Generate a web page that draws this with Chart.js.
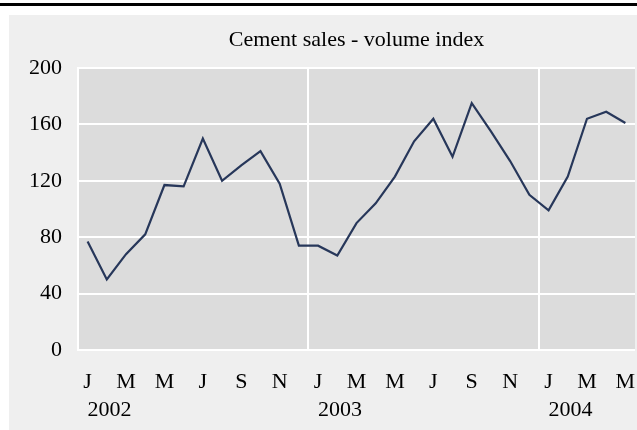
<!DOCTYPE html>
<html>
<head>
<meta charset="utf-8">
<script src="https://cdn.jsdelivr.net/npm/chart.js@4/dist/chart.umd.min.js"></script>
<style>
  html, body { margin: 0; padding: 0; background: #ffffff; }
  #wrap { width: 637px; height: 430px; position: relative; }
</style>
</head>
<body>
<div id="wrap"><canvas id="cementChart"></canvas></div>
<script>
// Jan 2002 .. May 2004
const months = ['J','F','M','A','M','J','J','A','S','O','N','D',
                'J','F','M','A','M','J','J','A','S','O','N','D',
                'J','F','M','A','M'];
const years = ['2002', '2003', '2004'];
const salesIndex = [77, 50, 68, 82, 117, 116, 150, 120, 131, 141, 118, 74,
                    74, 67, 90, 104, 123, 148, 164, 137, 175, 155, 134, 110,
                    99, 123, 164, 169, 161];
const yTicks = [0, 40, 80, 120, 160, 200];

const serif = "'Liberation Serif', 'Times New Roman', serif";

const backdrop = {
  id: 'backdrop',
  beforeDraw(chart) {
    const { ctx, chartArea } = chart;
    ctx.save();
    ctx.fillStyle = '#000000';
    ctx.fillRect(0, 3, chart.width, 3);
    ctx.fillStyle = '#efefef';
    ctx.fillRect(9, 15, chart.width - 9, chart.height - 15);
    ctx.fillStyle = '#dcdcdc';
    ctx.fillRect(chartArea.left, chartArea.top, chartArea.right - chartArea.left, chartArea.bottom - chartArea.top);
    ctx.restore();
  }
};

const yearLabels = {
  id: 'yearLabels',
  afterDraw(chart) {
    const { ctx } = chart;
    const x = chart.scales.x;
    ctx.save();
    ctx.font = '22px ' + serif;
    ctx.fillStyle = '#000000';
    ctx.textAlign = 'center';
    ctx.textBaseline = 'middle';
    years.forEach((y, i) => {
      ctx.fillText(y, x.getPixelForValue(i * 12) + 22, 410);
    });
    ctx.restore();
  }
};

new Chart(document.getElementById('cementChart'), {
  type: 'line',
  data: {
    labels: months,
    datasets: [{
      label: 'Cement sales',
      data: salesIndex,
      borderColor: '#27375a',
      borderWidth: 2.2,
      pointRadius: 0,
      tension: 0,
      fill: false
    }]
  },
  options: {
    responsive: true, maintainAspectRatio: false, animation: false,
    layout: { padding: { left: 9, right: 2, top: 15, bottom: 0 } },
    plugins: {
      legend: { display: false },
      tooltip: { enabled: false },
      title: {
        display: true,
        text: 'Cement sales - volume index',
        fullSize: false,
        color: '#000000',
        font: { family: serif, size: 22, weight: 'normal' },
        padding: { top: 12, bottom: 14.6 }
      }
    },
    scales: {
      x: {
        offset: true,
        afterFit: s => { s.height = 80; s.paddingLeft = 0; s.paddingRight = 0; },
        border: { display: false },
        grid: {
          offset: true,
          drawTicks: false,
          lineWidth: 2,
          color: c => (c.index % 12 === 0 && c.index < months.length) ? '#ffffff' : 'rgba(0,0,0,0)'
        },
        ticks: {
          autoSkip: false, maxRotation: 0, padding: 19, color: '#000000',
          font: { family: serif, size: 22 },
          callback: (v, i) => i % 2 === 0 ? months[i] : ''
        }
      },
      y: {
        min: 0, max: 200,
        afterFit: s => { s.width = 69; },
        afterBuildTicks: s => { s.ticks = yTicks.map(v => ({ value: v })); },
        border: { display: true, color: '#ffffff', width: 2 },
        grid: { color: '#ffffff', lineWidth: 2, drawTicks: false },
        ticks: {
          padding: 16, color: '#000000',
          font: { family: serif, size: 22 }
        }
      }
    }
  },
  plugins: [backdrop, yearLabels]
});
</script>
</body>
</html>
